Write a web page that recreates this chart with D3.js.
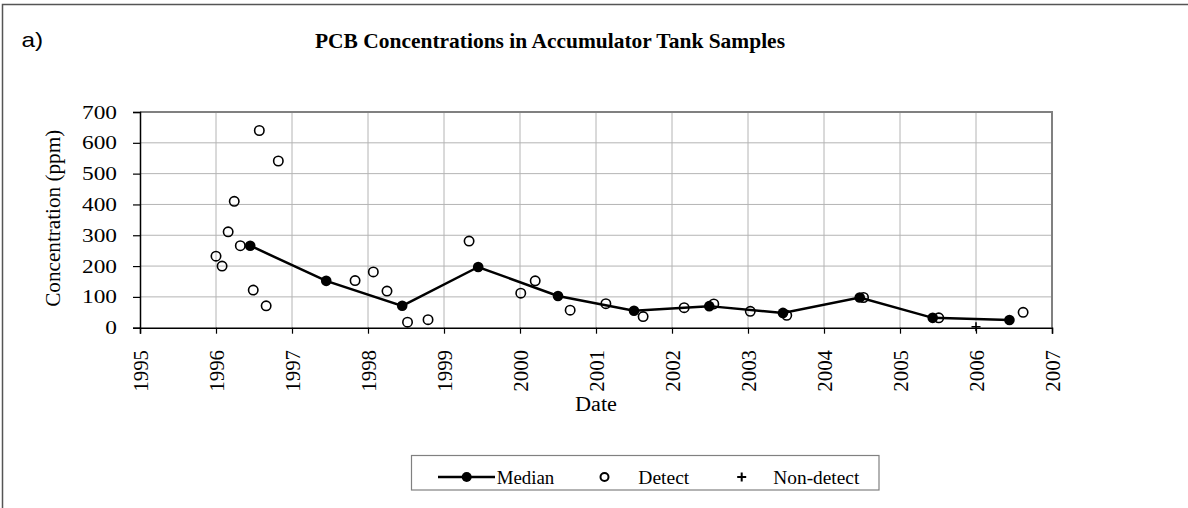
<!DOCTYPE html>
<html>
<head>
<meta charset="utf-8">
<script src="https://cdn.jsdelivr.net/npm/d3@7"></script>
<style>
  html, body { margin: 0; padding: 0; background: #fff; }
  svg { display: block; }
  text { font-family: "Liberation Serif", "Times New Roman", serif; fill: #000; }
</style>
</head>
<body>
<div id="chart"></div>
<script>
// ---- Data ----
const xTickYears = [1995, 1996, 1997, 1998, 1999, 2000, 2001, 2002, 2003, 2004, 2005, 2006, 2007];
const yTickValues = [0, 100, 200, 300, 400, 500, 600, 700];

const medianYears  = [1996.45, 1997.45, 1998.45, 1999.45, 2000.50, 2001.50, 2002.49, 2003.46, 2004.47, 2005.43, 2006.44];
const medianValues = [266, 152, 71, 197, 103, 55, 70, 48, 98, 32, 25];

const detectYears  = [1996.00, 1996.08, 1996.16, 1996.24, 1996.32, 1996.49, 1996.57, 1996.66, 1996.82,
                      1997.83, 1998.07, 1998.25, 1998.52, 1998.79, 1999.33, 2000.01, 2000.20, 2000.66,
                      2001.13, 2001.62, 2002.16, 2002.55, 2003.03, 2003.51, 2004.52, 2005.51, 2006.62];
const detectValues = [232, 200, 311, 410, 266, 122, 640, 71, 541,
                      153, 181, 119, 18, 26, 281, 112, 152, 57,
                      78, 36, 65, 77, 53, 40, 98, 32, 50];

const nonDetectYears  = [2006.00];
const nonDetectValues = [3];

const titleText = "PCB Concentrations in Accumulator Tank Samples";
const yTitle = "Concentration (ppm)";
const xTitle = "Date";
const panelLabel = "a)";
const legendLabels = ["Median", "Detect", "Non-detect"];

// ---- Layout ----
const W = 1188, H = 508;
const plot = { left: 140, right: 1052, top: 112, bottom: 327.7 };

const svg = d3.select("#chart").append("svg")
  .attr("width", W).attr("height", H);

// outer frame
svg.append("rect")
  .attr("x", 2.5).attr("y", 4.5).attr("width", W + 10).attr("height", H + 10)
  .attr("fill", "none").attr("stroke", "#555").attr("stroke-width", 1.5);

const x = d3.scaleLinear().domain([1995, 2007]).range([plot.left, plot.right]);
const y = d3.scaleLinear().domain([0, 700]).range([plot.bottom, plot.top]);

// gridlines
const grid = svg.append("g");
grid.selectAll("line.gy").data(yTickValues.filter(v => v > 0 && v < 700)).enter().append("line")
  .attr("x1", plot.left).attr("x2", plot.right)
  .attr("y1", d => y(d)).attr("y2", d => y(d))
  .attr("stroke", "#b4b4b4").attr("stroke-width", 1);
grid.selectAll("line.gx").data(xTickYears.filter(v => v > 1995 && v < 2007)).enter().append("line")
  .attr("x1", d => x(d)).attr("x2", d => x(d))
  .attr("y1", plot.top).attr("y2", plot.bottom)
  .attr("stroke", "#b4b4b4").attr("stroke-width", 1);

// plot area top/right border
svg.append("path")
  .attr("d", `M${plot.left},${plot.top}H${plot.right}V${plot.bottom}`)
  .attr("fill", "none").attr("stroke", "#808080").attr("stroke-width", 2);

// axes
const yAxis = d3.axisLeft(y).tickValues(yTickValues).tickSize(7).tickFormat("");
const gy = svg.append("g").attr("transform", `translate(${plot.left},0)`).call(yAxis);
gy.select(".domain").attr("stroke", "#000").attr("stroke-width", 1.5);
gy.selectAll(".tick line").attr("stroke", "#000").attr("stroke-width", 1.2);

const xAxis = d3.axisBottom(x).tickValues(xTickYears).tickSize(6).tickFormat("");
const gx = svg.append("g").attr("transform", `translate(0,${plot.bottom})`).call(xAxis);
gx.select(".domain").attr("stroke", "#000").attr("stroke-width", 1.5);
gx.selectAll(".tick line").attr("stroke", "#000").attr("stroke-width", 1.2);

// y tick labels
svg.append("g").selectAll("text").data(yTickValues).enter().append("text")
  .attr("x", 117).attr("y", d => y(d) + 6.5)
  .attr("text-anchor", "end")
  .attr("font-size", 18)
  .attr("textLength", d => String(d).length * 11.67)
  .attr("lengthAdjust", "spacingAndGlyphs")
  .text(d => d);

// x tick labels (rotated)
svg.append("g").selectAll("text").data(xTickYears).enter().append("text")
  .attr("transform", d => `translate(${x(d) + 7.5},350) rotate(-90)`)
  .attr("text-anchor", "end")
  .attr("font-size", 21)
  .attr("textLength", 41.7)
  .attr("lengthAdjust", "spacingAndGlyphs")
  .text(d => d);

// axis titles
svg.append("text")
  .attr("transform", `translate(59.5,218.3) rotate(-90)`)
  .attr("text-anchor", "middle")
  .attr("font-size", 20)
  .attr("textLength", 177)
  .attr("lengthAdjust", "spacingAndGlyphs")
  .text(yTitle);

svg.append("text")
  .attr("x", 596).attr("y", 411)
  .attr("text-anchor", "middle")
  .attr("font-size", 20)
  .attr("textLength", 42)
  .attr("lengthAdjust", "spacingAndGlyphs")
  .text(xTitle);

// title
svg.append("text")
  .attr("x", 315).attr("y", 48.3)
  .attr("font-size", 21).attr("font-weight", "bold")
  .attr("textLength", 470)
  .attr("lengthAdjust", "spacingAndGlyphs")
  .text(titleText);

svg.append("text")
  .attr("x", 21.5).attr("y", 47.3)
  .style("font-family", "'Liberation Sans', Arial, sans-serif")
  .attr("font-size", 21)
  .attr("textLength", 21.6)
  .attr("lengthAdjust", "spacingAndGlyphs")
  .text(panelLabel);

// detect points
const detect = detectYears.map((d, i) => ({ t: d, v: detectValues[i] }));
svg.append("g").selectAll("circle").data(detect).enter().append("circle")
  .attr("cx", d => x(d.t)).attr("cy", d => y(d.v)).attr("r", 4.7)
  .attr("fill", "none").attr("stroke", "#000").attr("stroke-width", 1.6);

// non-detect
const nond = nonDetectYears.map((d, i) => ({ t: d, v: nonDetectValues[i] }));
svg.append("g").selectAll("path").data(nond).enter().append("path")
  .attr("d", d => { const cx = x(d.t), cy = y(d.v); return `M${cx - 4.5},${cy}H${cx + 4.5}M${cx},${cy - 4.5}V${cy + 4.5}`; })
  .attr("stroke", "#000").attr("stroke-width", 1.6);

// median line + points
const med = medianYears.map((d, i) => ({ t: d, v: medianValues[i] }));
svg.append("path").datum(med)
  .attr("d", d3.line().x(d => x(d.t)).y(d => y(d.v)))
  .attr("fill", "none").attr("stroke", "#000").attr("stroke-width", 2.5);
svg.append("g").selectAll("circle").data(med).enter().append("circle")
  .attr("cx", d => x(d.t)).attr("cy", d => y(d.v)).attr("r", 5.3)
  .attr("fill", "#000");

// legend
const lg = svg.append("g");
lg.append("rect").attr("x", 411.5).attr("y", 455.5).attr("width", 467.5).attr("height", 34.5)
  .attr("fill", "#fff").attr("stroke", "#808080").attr("stroke-width", 1.2);
const ly = 477;
lg.append("line").attr("x1", 438).attr("x2", 495).attr("y1", ly).attr("y2", ly)
  .attr("stroke", "#000").attr("stroke-width", 2.5);
lg.append("circle").attr("cx", 466.7).attr("cy", ly).attr("r", 5).attr("fill", "#000");
lg.append("circle").attr("cx", 604.5).attr("cy", ly).attr("r", 4)
  .attr("fill", "none").attr("stroke", "#000").attr("stroke-width", 2);
lg.append("path").attr("d", `M${741.7 - 4.5},${ly}H${741.7 + 4.5}M741.7,${ly - 4.5}V${ly + 4.5}`)
  .attr("stroke", "#000").attr("stroke-width", 2);
const legendPos = [{ x: 496.7, w: 57.6 }, { x: 638.3, w: 51 }, { x: 773.3, w: 86 }];
lg.selectAll("text.lt").data(legendLabels).enter().append("text")
  .attr("x", (d, i) => legendPos[i].x).attr("y", 484.3)
  .attr("font-size", 19)
  .attr("textLength", (d, i) => legendPos[i].w)
  .attr("lengthAdjust", "spacingAndGlyphs")
  .text(d => d);
</script>
</body>
</html>
